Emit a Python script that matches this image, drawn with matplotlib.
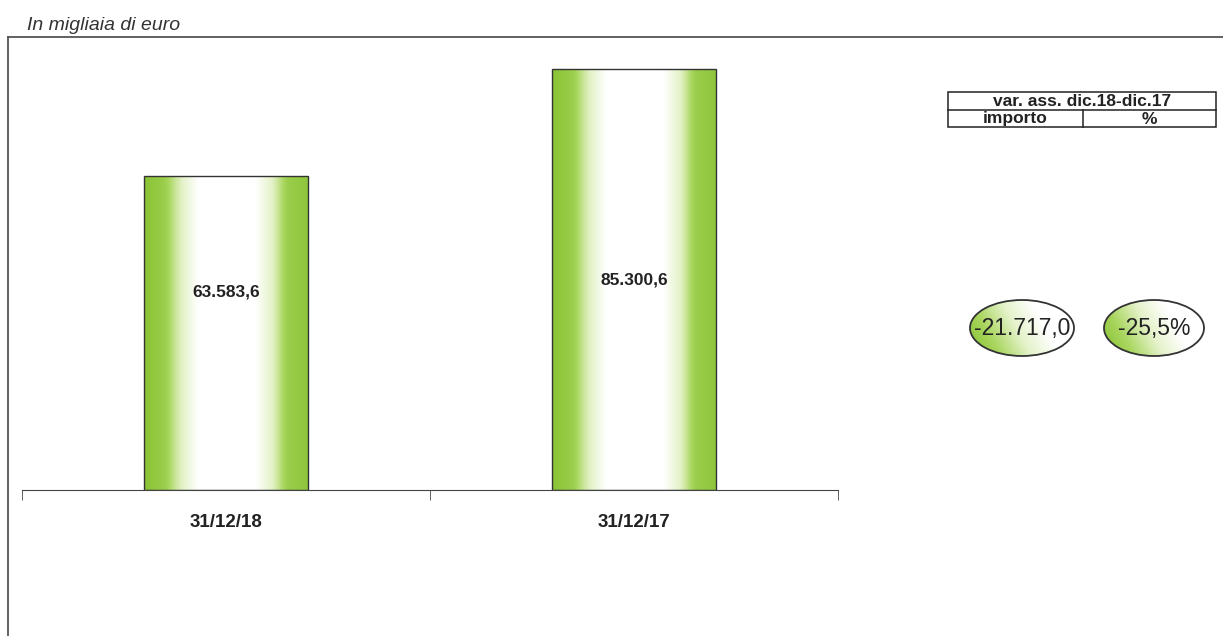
import numpy as np
import matplotlib
matplotlib.use("Agg")
from matplotlib import pyplot as plt
from matplotlib.colors import LinearSegmentedColormap
from matplotlib.patches import Ellipse, Rectangle

periodi = ["31/12/18", "31/12/17"]
valori = [63583.6, 85300.6]
etichette = ["63.583,6", "85.300,6"]
var_importo = "-21.717,0"
var_perc = "-25,5%"
titolo_tab = "var. ass. dic.18-dic.17"
col_tab = ["importo", "%"]

plt.rcParams['font.family'] = ['Liberation Sans', 'DejaVu Sans']
verde = LinearSegmentedColormap.from_list("verde", ["#ffffff", "#e4f2c9", "#a9d65e", "#84c02e"])

W, H = 1223, 636
fig = plt.figure(figsize=(W / 100, H / 100), dpi=100)

# overlay in pixel coordinates for frame, table and ovals
ov = fig.add_axes([0, 0, 1, 1])
ov.set_xlim(0, W)
ov.set_ylim(H, 0)
ov.axis("off")
ov.plot([8, W], [37, 37], color="#555555", lw=1.3)
ov.plot([8, 8], [37, H], color="#555555", lw=1.3)
ov.text(27, 30, "In migliaia di euro", fontsize=14, style="italic", color="#333333")

# table
tx0, tx1, ty0, ty1, tym, txm = 948, 1216, 92, 127, 109.5, 1083
ov.add_patch(Rectangle((tx0, ty0), tx1 - tx0, ty1 - ty0, fill=False, ec="#222222", lw=1.1))
ov.plot([tx0, tx1], [tym, tym], color="#222222", lw=1.1)
ov.plot([txm, txm], [tym, ty1], color="#222222", lw=1.1)
ov.text((tx0 + tx1) / 2, (ty0 + tym) / 2 + 1, titolo_tab, ha="center", va="center",
        fontsize=12.5, fontweight="bold", color="#222222")
ov.text((tx0 + txm) / 2, (tym + ty1) / 2 + 0.5, col_tab[0], ha="center", va="center",
        fontsize=12.5, fontweight="bold", color="#222222")
ov.text((txm + tx1) / 2, (tym + ty1) / 2 + 1, col_tab[1], ha="center", va="center",
        fontsize=12.5, fontweight="bold", color="#222222")

# ovals with gradient
gx = np.linspace(0, 1, 200)
gy = np.linspace(0, 1, 60)
GX, GY = np.meshgrid(gx, gy)
ovgrad = np.clip(1.0 - (GX * 0.85 + (1 - GY) * 0.25) / 0.75, 0, 1)
for cx, w, txt in [(1022, 104, var_importo), (1154, 100, var_perc)]:
    cy, h = 328, 56
    el = Ellipse((cx, cy), w, h, fc="none", ec="#333333", lw=1.3, zorder=3)
    ov.add_patch(el)
    im = ov.imshow(ovgrad, cmap=verde, vmin=0, vmax=1, extent=(cx - w / 2, cx + w / 2, cy + h / 2, cy - h / 2),
                   aspect="auto", zorder=2, interpolation="bilinear")
    im.set_clip_path(el)
    ov.text(cx, cy + 1, txt, ha="center", va="center", fontsize=16.5, color="#222222", zorder=4)
ov.set_xlim(0, W)
ov.set_ylim(H, 0)

# main bar chart
ax = fig.add_axes([22 / W, (H - 490) / H, 816 / W, 444 / H])
ax.patch.set_alpha(0)
x = np.arange(len(periodi))
bw = 0.4
bars = ax.bar(x, valori, width=bw, fc="none", ec="#333333", lw=1.0, zorder=3)
t = np.linspace(0, 1, 300)
prof = np.interp(t, [0, 0.12, 0.2, 0.33, 0.68, 0.8, 0.88, 1.0], [0.95, 0.8, 0.45, 0.0, 0.0, 0.4, 0.8, 0.9])
grad = prof[np.newaxis, :]
for b in bars:
    x0, y0 = b.get_x(), b.get_y()
    im = ax.imshow(grad, cmap=verde, vmin=0, vmax=1, aspect="auto",
                   extent=(x0, x0 + b.get_width(), y0, y0 + b.get_height()), zorder=2, interpolation="bilinear")
    im.set_clip_path(b)
ax.set_xlim(-0.5, len(periodi) - 0.5)
ax.set_ylim(0, 90000)
for xi, v, lab, off in zip(x, valori, etichette, [0.63, 0.5]):
    ax.text(xi, v * off, lab, ha="center", va="center", fontsize=12.5, fontweight="bold", color="#222222", zorder=4)

for s in ["top", "left", "right"]:
    ax.spines[s].set_visible(False)
ax.spines["bottom"].set_color("#444444")
ax.set_yticks([])
ax.set_xticks(x)
ax.set_xticklabels(periodi, fontsize=13.5, fontweight="bold", color="#222222")
ax.tick_params(axis="x", which="major", length=0, pad=17)
ax.set_xticks(np.arange(-0.5, len(periodi)), minor=True)
ax.tick_params(axis="x", which="minor", length=7, color="#444444", direction="out")

fig.savefig("out.png", dpi=100)
